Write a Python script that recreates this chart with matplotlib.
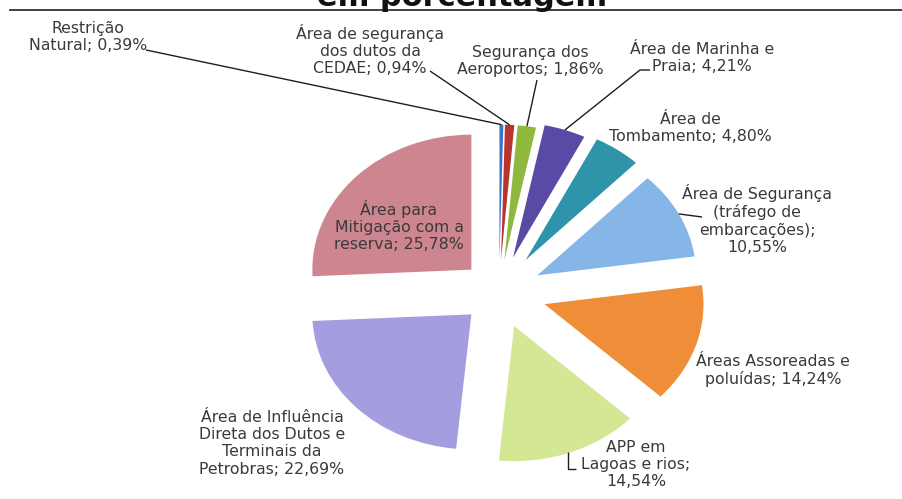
import numpy as np
import matplotlib
matplotlib.use("Agg")
import matplotlib.pyplot as plt

# ---- data ----
categories = [
    "Restrição\nNatural; 0,39%",
    "Área de segurança\ndos dutos da\nCEDAE; 0,94%",
    "Segurança dos\nAeroportos; 1,86%",
    "Área de Marinha e\nPraia; 4,21%",
    "Área de\nTombamento; 4,80%",
    "Área de Segurança\n(tráfego de\nembarcações);\n10,55%",
    "Áreas Assoreadas e\npoluídas; 14,24%",
    "APP em\nLagoas e rios;\n14,54%",
    "Área de Influência\nDireta dos Dutos e\nTerminais da\nPetrobras; 22,69%",
    "Área para\nMitigação com a\nreserva; 25,78%",
]
values = [0.39, 0.94, 1.86, 4.21, 4.80, 10.55, 14.24, 14.54, 22.69, 25.78]
colors = ["#3b73c6", "#b8352f", "#8fb83e", "#5a4aa6", "#2f93a9",
          "#86b5e8", "#ef8d38", "#d3e794", "#a49ddf", "#cd8590"]
explode = [0.24, 0.24, 0.24, 0.27, 0.29, 0.27, 0.30, 0.27, 0.24, 0.24]

W, H = 903, 499
CX, CY = 499, 292      # pie centre in pixels (from top-left)
SX, SY = 159, 135      # pixels per unit radius (horizontal / vertical)

fig = plt.figure(figsize=(W / 100, H / 100), dpi=100)
fig.patch.set_facecolor("white")
ax = fig.add_axes([0, 0, 1, 1])

wedges, _ = ax.pie(values, colors=colors, explode=explode, startangle=90,
                   counterclock=False, radius=1.0,
                   wedgeprops=dict(linewidth=0))
ax.set_aspect("auto")
ax.set_xlim(-CX / SX, (W - CX) / SX)
ax.set_ylim(-(H - CY) / SY, CY / SY)
ax.axis("off")


def d(px, py):
    """pixel (top-left origin) -> data coordinates"""
    return (px - CX) / SX, (CY - py) / SY


def anchor(w, frac=1.0):
    t = np.deg2rad((w.theta1 + w.theta2) / 2)
    return (w.center[0] + w.r * frac * np.cos(t),
            w.center[1] + w.r * frac * np.sin(t))


txt_color = "#3a3a3a"
fs = 11.3
ls = 1.2

# label positions (pixel centre x, first-line centre y)
label_pos = [(88, 29), (370, 32), (530, 53), (702, 50), (690, 120),
             (757, 192), (773, 362), (636, 448), (272, 418), (399, 208)]
for lab, (px, py) in zip(categories, label_pos):
    x, y = d(px, py)
    ax.text(x, y + 8.5 / SY, lab, ha="center", va="top", fontsize=fs,
            color=txt_color, linespacing=ls)

lc = "#1e1e1e"


def line(points):
    xs, ys = zip(*points)
    ax.plot(xs, ys, color=lc, lw=1.0, solid_capstyle="butt")


# leader lines
line([d(146, 50), anchor(wedges[0])])
line([d(430, 71), anchor(wedges[1])])
line([d(537, 80), anchor(wedges[2])])
line([d(650, 70), d(640, 70), anchor(wedges[3])])
line([anchor(wedges[5]), d(702, 217)])
line([d(568, 452), d(568, 469), d(576, 469)])

# title remnant (cut off at top) and rule
fig.text(462 / W, 1 - 5.5 / H, "em porcentagem", ha="center", va="baseline",
         fontsize=22, fontweight="bold", color="#111111")
fig.add_artist(plt.Line2D([10 / W, 1.0], [1 - 10 / H, 1 - 10 / H],
                          transform=fig.transFigure, color="#333333", lw=1.3))

fig.savefig("out.png", dpi=100, facecolor="white")
